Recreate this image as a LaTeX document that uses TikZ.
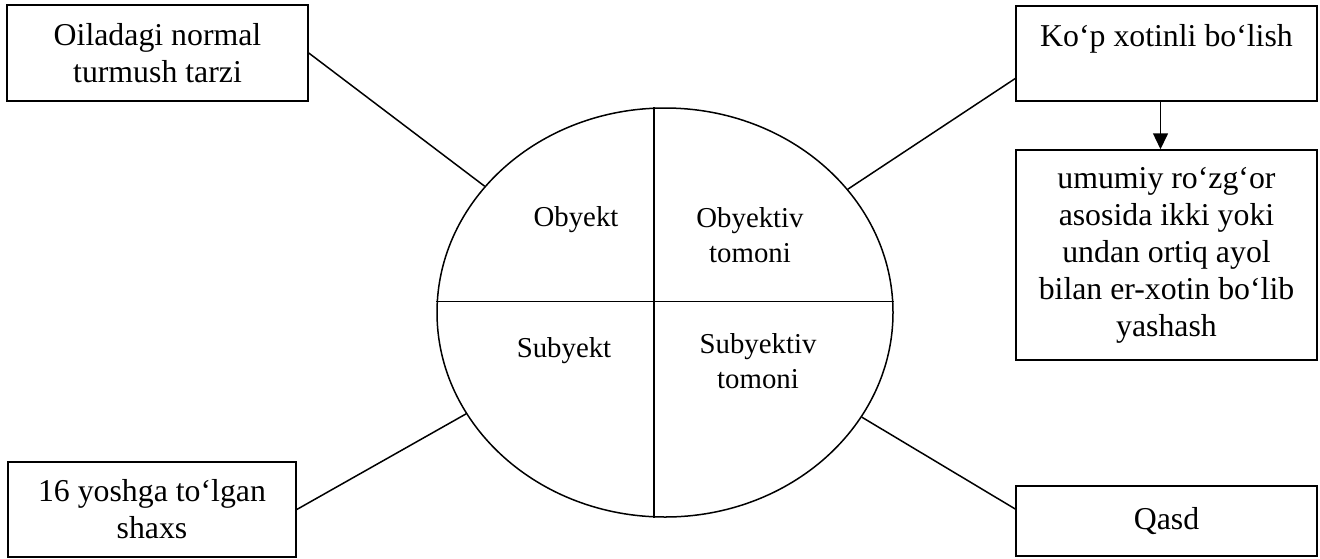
\documentclass[tikz,border=0pt]{standalone}
\usepackage{fontspec}
\setmainfont{Liberation Serif}
\usetikzlibrary{shapes.geometric,arrows.meta}

\begin{document}
\begin{tikzpicture}[x=0.5pt, y=-0.5pt, line width=0.75pt]
        \tikzset{box/.style={draw, inner sep=0pt, align=center, minimum width=150.5pt, font=\fontsize{15.9}{18.5}\selectfont},
                 part/.style={align=center, font=\fontsize{14.4}{17.5}\selectfont}}
        \useasboundingbox (0,0) rectangle (1320,558);

        \node[draw, ellipse, inner sep=0pt, minimum width=228pt, minimum height=204.5pt] (ell) at (665,312.5) {};
        \draw ([yshift=5.5pt]ell.west) -- ([yshift=5.5pt]ell.east);
        \draw ([xshift=-5.5pt]ell.north) -- ([xshift=-5.5pt]ell.south);

        \node[part] (obj) at (576,220) {Obyekt};
        \node[part] (objside) at (750,235) {Obyektiv\\tomoni};
        \node[part] (subj) at (564,351) {Subyekt};
        \node[part] (subjside) at (758,361) {Subyektiv\\tomoni};

        \node[box, minimum height=48pt] (norm) at (157.5,53) {Oiladagi normal\\turmush tarzi};
        \node[box, minimum height=47.5pt] (poly) at (1166.5,53.5) {Ko‘p xotinli bo‘lish\\\mbox{}};
        \node[box, minimum height=105pt] (def) at (1166.5,255) {umumiy ro‘zg‘or\\asosida ikki yoki\\undan ortiq ayol\\bilan er-xotin bo‘lib\\yashash};
        \node[box, minimum width=144pt, minimum height=47.5pt] (age) at (152,509.5) {16 yoshga to‘lgan\\shaxs};
        \node[box, minimum height=35pt] (intent) at (1166.5,521) {Qasd};

        \draw (norm.east) -- (ell.145);
        \draw ([yshift=-12.5pt]poly.west) -- (ell.34);
        \draw (age.east) -- (ell.207);
        \draw ([yshift=6pt]intent.west) -- (ell.332);
        \draw[-{Triangle[length=8pt, width=7.5pt]}] ([xshift=-3pt]poly.south) -- ([xshift=-3pt]def.north);
    \end{tikzpicture}
\end{document}
